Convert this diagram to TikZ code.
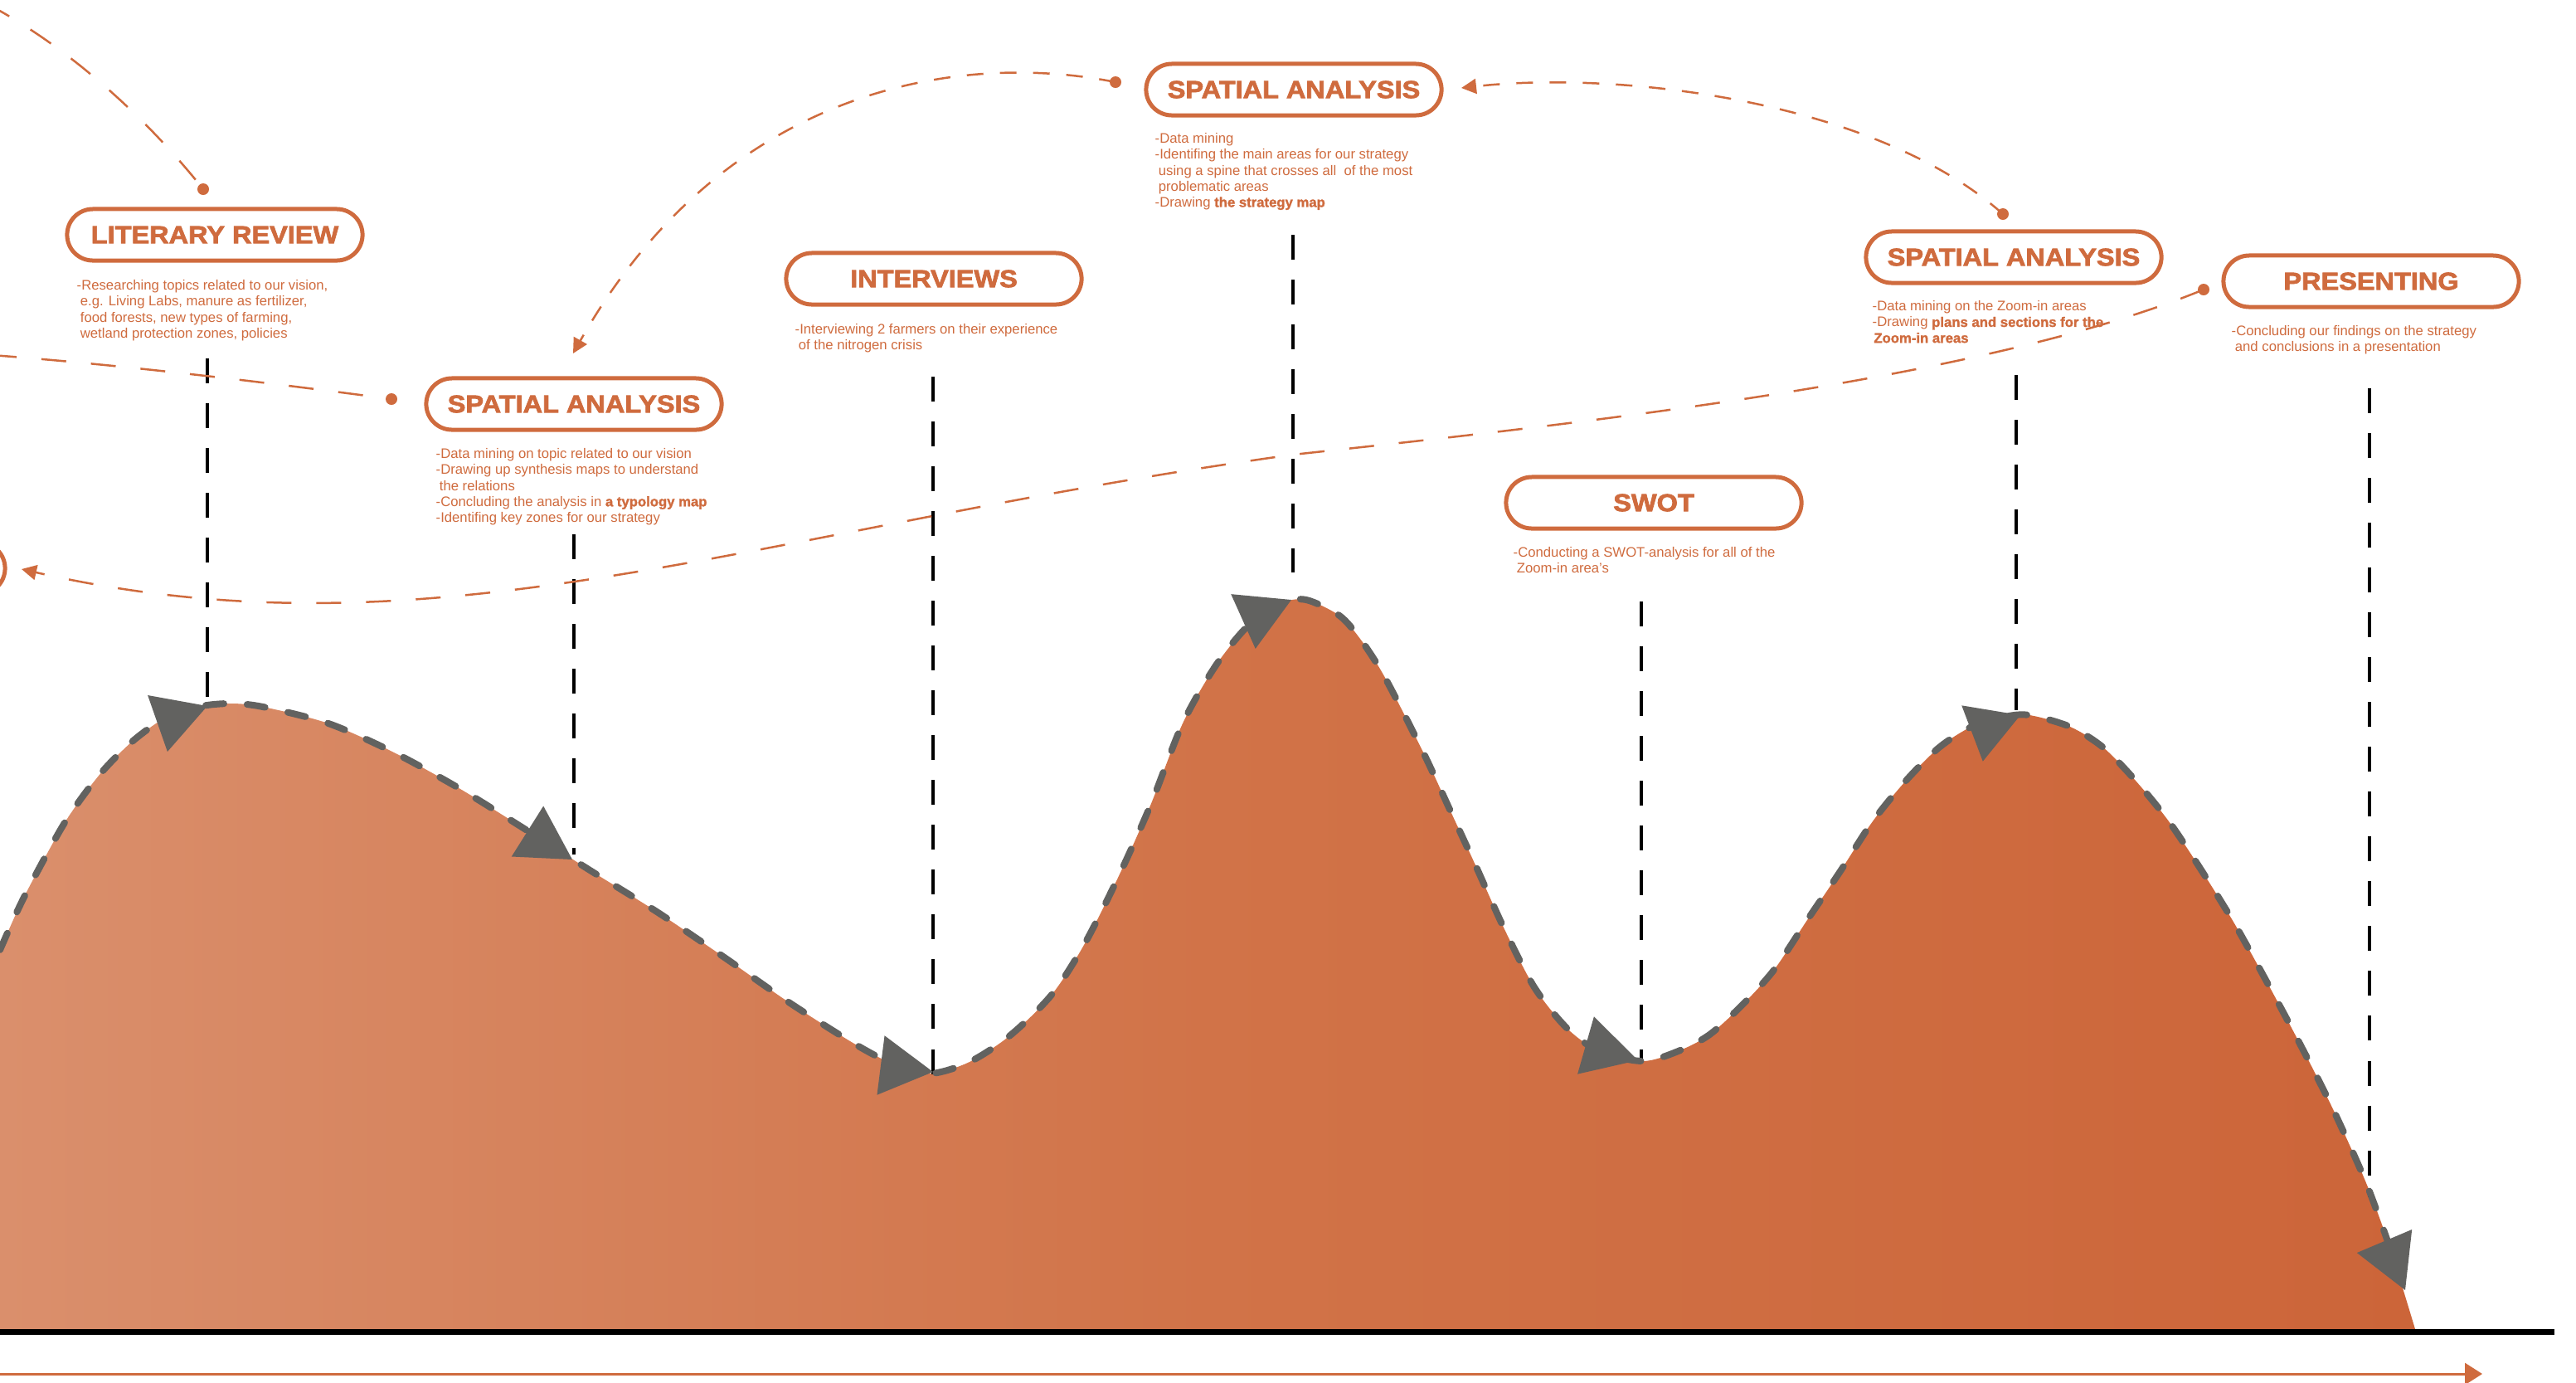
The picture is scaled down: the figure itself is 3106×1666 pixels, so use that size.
\documentclass[tikz,border=0pt]{standalone}
\usepackage{fontspec}
\setmainfont{Liberation Sans}[BoldFeatures={FakeBold=1.5}]
\newfontfamily\titlefont{Liberation Sans Bold}[FakeStretch=1.1,FakeBold=2.5]
\usetikzlibrary{arrows.meta,calc}
\definecolor{accent}{RGB}{207,107,62}
\definecolor{ridgegrey}{RGB}{98,98,96}
\definecolor{hillL}{RGB}{218,143,108}
\definecolor{hillM}{RGB}{209,115,72}
\definecolor{hillR}{RGB}{204,101,57}
\newcommand\descfont{\fontsize{4.75}{5.45}\selectfont}
\newcommand\ind{\hspace*{0.25em}}
% filled arrowhead on the ridge: base centre #1, tip #2
\newcommand\ridgearrow[2]{\fill[ridgegrey] (#2) -- ($(#1)!0.36cm!90:(#2)$) -- ($(#1)!0.36cm!-90:(#2)$) -- cycle;}
\begin{document}
\begin{tikzpicture}[x=0.01cm,y=-0.01cm,
  pill/.style={draw=accent, line width=0.05cm, rounded corners=0.31cm,
    minimum width=3.56cm, minimum height=0.62cm, inner sep=0pt, text=accent,
    font=\titlefont\fontsize{8.4}{10}\selectfont},
  desc/.style={anchor=north west, inner sep=0pt, align=left, text=accent, font=\descfont},
  vline/.style={line width=0.035cm, dash pattern=on 0.3cm off 0.24cm},
  orangelink/.style={accent, line width=0.025cm, dash pattern=on 0.3cm off 0.3cm},
  shortlink/.style={orangelink, dash pattern=on 0.2cm off 0.2cm},
  linktip/.style={-{Triangle[length=0.18cm,width=0.18cm]}},
  ridge/.style={draw=ridgegrey, line width=0.08cm, line cap=round, dash pattern=on 0.22cm off 0.28cm}]
\useasboundingbox (0,0) rectangle (3106,1666);
\clip (0,0) rectangle (3106,1666);

% the hill
\shade[left color=hillL, right color=hillR, middle color=hillM]
  (0,1602) -- plot[smooth,tension=0.5] coordinates {
  (0,1145) (20,1100) (40,1060) (79,990) (119,935) (158,895) (198,866) (238,852) (277,848)
  (317,852) (396,872) (475,907) (555,951) (634,1000) (713,1050) (792,1099) (872,1153)
  (951,1208) (1030,1258) (1080,1284) (1122,1294)
  (1169,1280) (1218,1248) (1268,1199) (1307,1139) (1347,1060) (1387,971) (1426,872)
  (1466,802) (1506,753) (1545,727) (1575,723)
  (1615,742) (1640,770) (1665,808) (1690,855) (1720,915) (1750,980) (1780,1045)
  (1813,1118) (1850,1190) (1890,1240) (1930,1268) (1981,1279)
  (2021,1268) (2060,1248) (2100,1212) (2139,1169) (2179,1109) (2219,1050) (2258,990)
  (2298,941) (2338,901) (2377,876) (2417,864) (2447,862)
  (2496,876) (2536,901) (2575,941) (2615,990) (2655,1050) (2694,1113) (2734,1185)
  (2773,1258) (2813,1337) (2853,1426) (2882,1505) (2912,1602)} -- cycle;

% ground line and time arrow
\draw[line width=0.07cm] (0,1605) -- (3080,1605);
\draw[accent, line width=0.03cm, -{Triangle[length=0.21cm,width=0.26cm]}] (0,1656) -- (2993,1656);

% drop lines from each phase to the hill
\draw[vline] (250,432) -- (250,842);
\draw[vline] (692,644) -- (692,1030);
\draw[vline] (1125,454) -- (1125,1297);
\draw[vline] (1559,283) -- (1559,690);
\draw[vline] (1979,725) -- (1979,1278);
\draw[vline] (2431,452) -- (2431,856);
\draw[vline] (2857,468) -- (2857,1443);

% dashed ridge outline
\draw[ridge] plot[smooth,tension=0.5] coordinates {
  (0,1145) (20,1100) (40,1060) (79,990) (119,935) (158,895) (198,866) (238,852) (277,848)
  (317,852) (396,872) (475,907) (555,951) (634,1000) (713,1050) (792,1099) (872,1153)
  (951,1208) (1030,1258) (1080,1284) (1122,1294)
  (1169,1280) (1218,1248) (1268,1199) (1307,1139) (1347,1060) (1387,971) (1426,872)
  (1466,802) (1506,753) (1545,727) (1575,723)
  (1615,742) (1640,770) (1665,808) (1690,855) (1720,915) (1750,980) (1780,1045)
  (1813,1118) (1850,1190) (1890,1240) (1930,1268) (1981,1279)
  (2021,1268) (2060,1248) (2100,1212) (2139,1169) (2179,1109) (2219,1050) (2258,990)
  (2298,941) (2338,901) (2377,876) (2417,864) (2447,862)
  (2496,876) (2536,901) (2575,941) (2615,990) (2655,1050) (2694,1113) (2734,1185)
  (2773,1258) (2813,1337) (2853,1426) (2882,1505)};

% direction arrows on the ridge
\ridgearrow{190,872}{250,851}
\ridgearrow{636,1002}{690,1036}
\ridgearrow{1062,1284}{1125,1292}
\ridgearrow{1499,749}{1557,723}
\ridgearrow{1912,1260}{1975,1278}
\ridgearrow{2378,884}{2436,862}
\ridgearrow{2875,1496}{2900,1555}

% phases
\node[pill] (prev) at (-172,685) {};
\node[pill] (lr) at (259,283) {LITERARY REVIEW};
\node[pill] (spa) at (692,487) {SPATIAL ANALYSIS};
\node[pill] (int) at (1126,336) {INTERVIEWS};
\node[pill] (spb) at (1560,108) {SPATIAL ANALYSIS};
\node[pill] (swot) at (1994,606) {SWOT};
\node[pill] (spc) at (2428,310) {SPATIAL ANALYSIS};
\node[pill] (pres) at (2859,339) {PRESENTING};

% phase descriptions
\node[desc] (lrText) at (92,337) {-Researching topics related to our vision,\\\ind e.g. Living Labs, manure as fertilizer,\\\ind food forests, new types of farming,\\\ind wetland protection zones, policies};
\node[desc] (spaText) at (525,540) {-Data mining on topic related to our vision\\-Drawing up synthesis maps to understand\\\ind the relations\\-Concluding the analysis in \textbf{a typology map}\\-Identifing key zones for our strategy};
\node[desc] (intText) at (958,390) {-Interviewing 2 farmers on their experience\\\ind of the nitrogen crisis};
\node[desc] (spbText) at (1392,160) {-Data mining\\-Identifing the main areas for our strategy\\\ind using a spine that crosses all\ \ of the most\\\ind problematic areas\\-Drawing \textbf{the strategy map}};
\node[desc] (swotText) at (1824,659) {-Conducting a SWOT-analysis for all of the\\\ind Zoom-in area’s};
\node[desc] (spcText) at (2257,362) {-Data mining on the Zoom-in areas\\-Drawing \textbf{plans and sections for the}\\\hspace*{0.1em}\textbf{Zoom-in areas}};
\node[desc] (presText) at (2690,392) {-Concluding our findings on the strategy\\\ind and conclusions in a presentation};

% dashed links between phases
\coordinate (aStart) at (-15,5);
\coordinate (aDot) at (245,228);
\coordinate (bStart) at (-10,428);
\coordinate (bDot) at (472,481);
\coordinate (cDot) at (1345,99);
\coordinate (cTip) at (691,426);
\coordinate (dDot) at (2415,258);
\coordinate (dTip) at (1762,106);
\coordinate (eDot) at (2657,349);
\coordinate (eMid) at (1559,548);
\coordinate (eTip) at (26,686);

\draw[orangelink] (aStart) .. controls (80,55) and (175,140) .. (aDot);
\draw[orangelink] (bStart) .. controls (150,440) and (330,462) .. (bDot);
\draw[shortlink, linktip] (cDot) .. controls (1150,60) and (870,110) .. (cTip);
\draw[shortlink, linktip] (dDot) .. controls (2260,120) and (1950,85) .. (dTip);
\draw[orangelink, linktip] (eDot) .. controls (2387,460) and (1889,512) .. (eMid)
  .. controls (909,638) and (526,800) .. (eTip);
\foreach \d in {aDot,bDot,cDot,dDot,eDot} \fill[accent] (\d) circle (0.07cm);
\end{tikzpicture}
\end{document}
